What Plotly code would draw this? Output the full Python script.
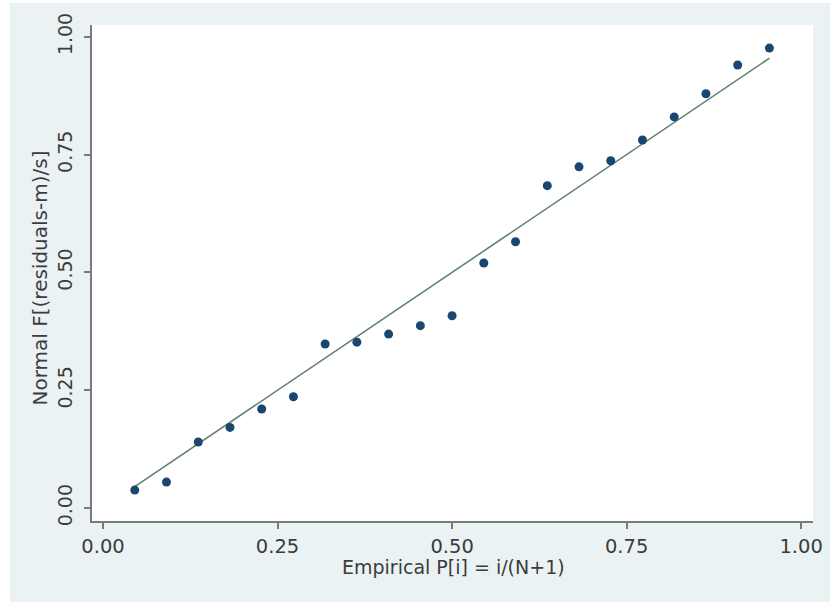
import plotly.graph_objects as go

# Data
empirical_p = [1/22, 2/22, 3/22, 4/22, 5/22, 6/22, 7/22, 8/22, 9/22, 10/22, 11/22,
               12/22, 13/22, 14/22, 15/22, 16/22, 17/22, 18/22, 19/22, 20/22, 21/22]
normal_f = [0.038, 0.055, 0.140, 0.171, 0.210, 0.236, 0.348, 0.352, 0.369, 0.387, 0.408,
            0.520, 0.565, 0.684, 0.724, 0.737, 0.781, 0.830, 0.879, 0.940, 0.976]
ref_line = [empirical_p[0], empirical_p[-1]]
tick_vals = [0.0, 0.25, 0.5, 0.75, 1.0]
tick_text = ["0.00", "0.25", "0.50", "0.75", "1.00"]
x_title = "Empirical P[i] = i/(N+1)"
y_title = "Normal F[(residuals-m)/s]"

FONT = "DejaVu Sans"
TXT = "#3c3c3c"
AX = "#7a7a7a"

fig = go.Figure()
fig.add_trace(go.Scatter(x=ref_line, y=ref_line, mode="lines",
                         line=dict(color="#5f8272", width=1.6), showlegend=False,
                         hoverinfo="skip"))
fig.add_trace(go.Scatter(x=empirical_p, y=normal_f, mode="markers",
                         marker=dict(color="#1a476f", size=9), showlegend=False))

# white strips at the left and top edges of the outer (blue) background
fig.add_shape(type="rect", xref="paper", yref="paper",
              x0=-0.2, x1=-0.1137, y0=-0.3, y1=1.2,
              fillcolor="white", line=dict(width=0), layer="below")
fig.add_shape(type="rect", xref="paper", yref="paper",
              x0=-0.2, x1=1.2, y0=1.0444, y1=1.2,
              fillcolor="white", line=dict(width=0), layer="below")

fig.add_annotation(text=x_title, xref="paper", yref="paper", x=0.5014, y=-0.093,
                   xanchor="center", yanchor="middle", showarrow=False,
                   font=dict(family=FONT, size=19, color=TXT))
fig.add_annotation(text=y_title, xref="paper", yref="paper", x=-0.0721, y=0.489,
                   xanchor="center", yanchor="middle", showarrow=False, textangle=-90,
                   font=dict(family=FONT, size=20, color=TXT))

fig.update_layout(
    width=830, height=602,
    margin=dict(l=92, r=17, t=25, b=81, autoexpand=False),
    paper_bgcolor="#eaf2f3", plot_bgcolor="white",
    font=dict(family=FONT, size=20, color=TXT),
)
fig.update_xaxes(range=[-0.0158, 1.017], tickvals=tick_vals, ticktext=tick_text,
                 showgrid=False, zeroline=False, showline=True, linecolor=AX, linewidth=2,
                 ticks="outside", ticklen=6, tickwidth=2, tickcolor=AX,
                 ticklabelstandoff=1, automargin=False,
                 tickfont=dict(size=19.5, color=TXT))
fig.update_yaxes(range=[-0.0276, 1.025], tickvals=tick_vals, ticktext=tick_text,
                 showgrid=False, zeroline=False, showline=True, linecolor=AX, linewidth=2,
                 ticks="outside", ticklen=6, tickwidth=2, tickcolor=AX,
                 tickangle=-90, ticklabelstandoff=4, automargin=False,
                 tickfont=dict(size=19, color=TXT))

fig.write_html("out.html", config={"displayModeBar": False},
               post_script="document.body.style.margin='0';")
